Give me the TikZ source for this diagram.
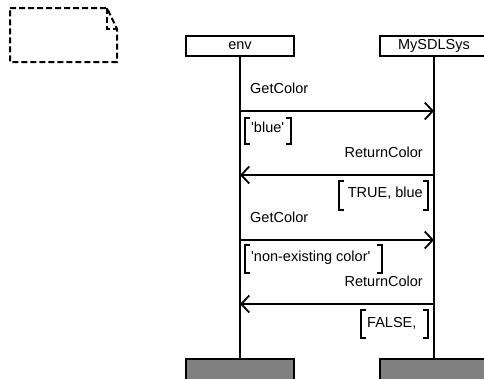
\documentclass[tikz,border=0pt]{standalone}
\usepackage{fontspec}
\setmainfont{Liberation Sans}
\usetikzlibrary{arrows.meta}
\definecolor{endgray}{HTML}{808080}
\tikzset{
  inst/.style={draw=black, line width=2pt, fill=white, minimum width=108pt, minimum height=20pt, inner sep=0pt, font=\fontsize{14.5}{16}\selectfont},
  instend/.style={draw=black, line width=2pt, fill=endgray, minimum width=108pt, minimum height=24pt, inner sep=0pt, anchor=north},
  life/.style={line width=2pt},
  msg/.style={line width=2pt, -{Straight Barb[length=8pt,width=17pt,line width=1.8pt]}},
  lbl/.style={inner sep=0pt, font=\fontsize{14.5}{16}\selectfont},
  brk/.style={line width=2pt},
  notebox/.style={line width=2pt, dash pattern=on 6pt off 3pt}
}
\begin{document}
\begin{tikzpicture}[x=1pt,y=-1pt]
\useasboundingbox (0,0) rectangle (484,378);
\clip (0,0) rectangle (484,378);
% comment / text symbol
\draw[notebox] (10,8) -- (107,8) -- (117,29) -- (117,62) -- (10,62) -- cycle;
\draw[notebox] (107,8) -- (107,29) -- (117,29);
% instances
\node[inst] (env) at (240,46) {env};
\node[inst] (sys) at (434,46) {MySDLSys};
\node[instend] (envend) at (240,358) {};
\node[instend] (sysend) at (434,358) {};
\draw[life] (env.south) -- (envend.north);
\draw[life] (sys.south) -- (sysend.north);
% message anchor points
\coordinate (e1) at (240,111); \coordinate (s1) at (434,111);
\coordinate (e2) at (240,175); \coordinate (s2) at (434,175);
\coordinate (e3) at (240,240); \coordinate (s3) at (434,240);
\coordinate (e4) at (240,304); \coordinate (s4) at (434,304);
\draw[msg] (e1) -- (s1);
\draw[msg] (s2) -- (e2);
\draw[msg] (e3) -- (s3);
\draw[msg] (s4) -- (e4);
% labels
\node[lbl, anchor=base west] (m1) at (250,93) {GetColor};
\node[lbl, anchor=base east] (m2) at (423,157) {ReturnColor};
\node[lbl, anchor=base west] (m3) at (250,222) {GetColor};
\node[lbl, anchor=base east] (m4) at (423,286) {ReturnColor};
% parameters
\node[lbl, anchor=base west] (p1) at (251,132) {\textquotesingle blue\textquotesingle};
\draw[brk] (250,118) -- (245,118) -- (245,144) -- (250,144);
\draw[brk] (286,118) -- (291,118) -- (291,144) -- (286,144);
\node[lbl, anchor=base east] (p2) at (423,197) {TRUE, blue};
\draw[brk] (344,181) -- (339,181) -- (339,210) -- (344,210);
\draw[brk] (423,181) -- (428,181) -- (428,210) -- (423,210);
\node[lbl, anchor=base west] (p3) at (251,261) {\textquotesingle non-existing color\textquotesingle};
\draw[brk] (250,245) -- (245,245) -- (245,273) -- (250,273);
\draw[brk] (377,245) -- (382,245) -- (382,273) -- (377,273);
\node[lbl, anchor=base west] (p4) at (367,327) {FALSE,};
\draw[brk] (366,310) -- (361,310) -- (361,338) -- (366,338);
\draw[brk] (423,310) -- (428,310) -- (428,338) -- (423,338);
\end{tikzpicture}
\end{document}
